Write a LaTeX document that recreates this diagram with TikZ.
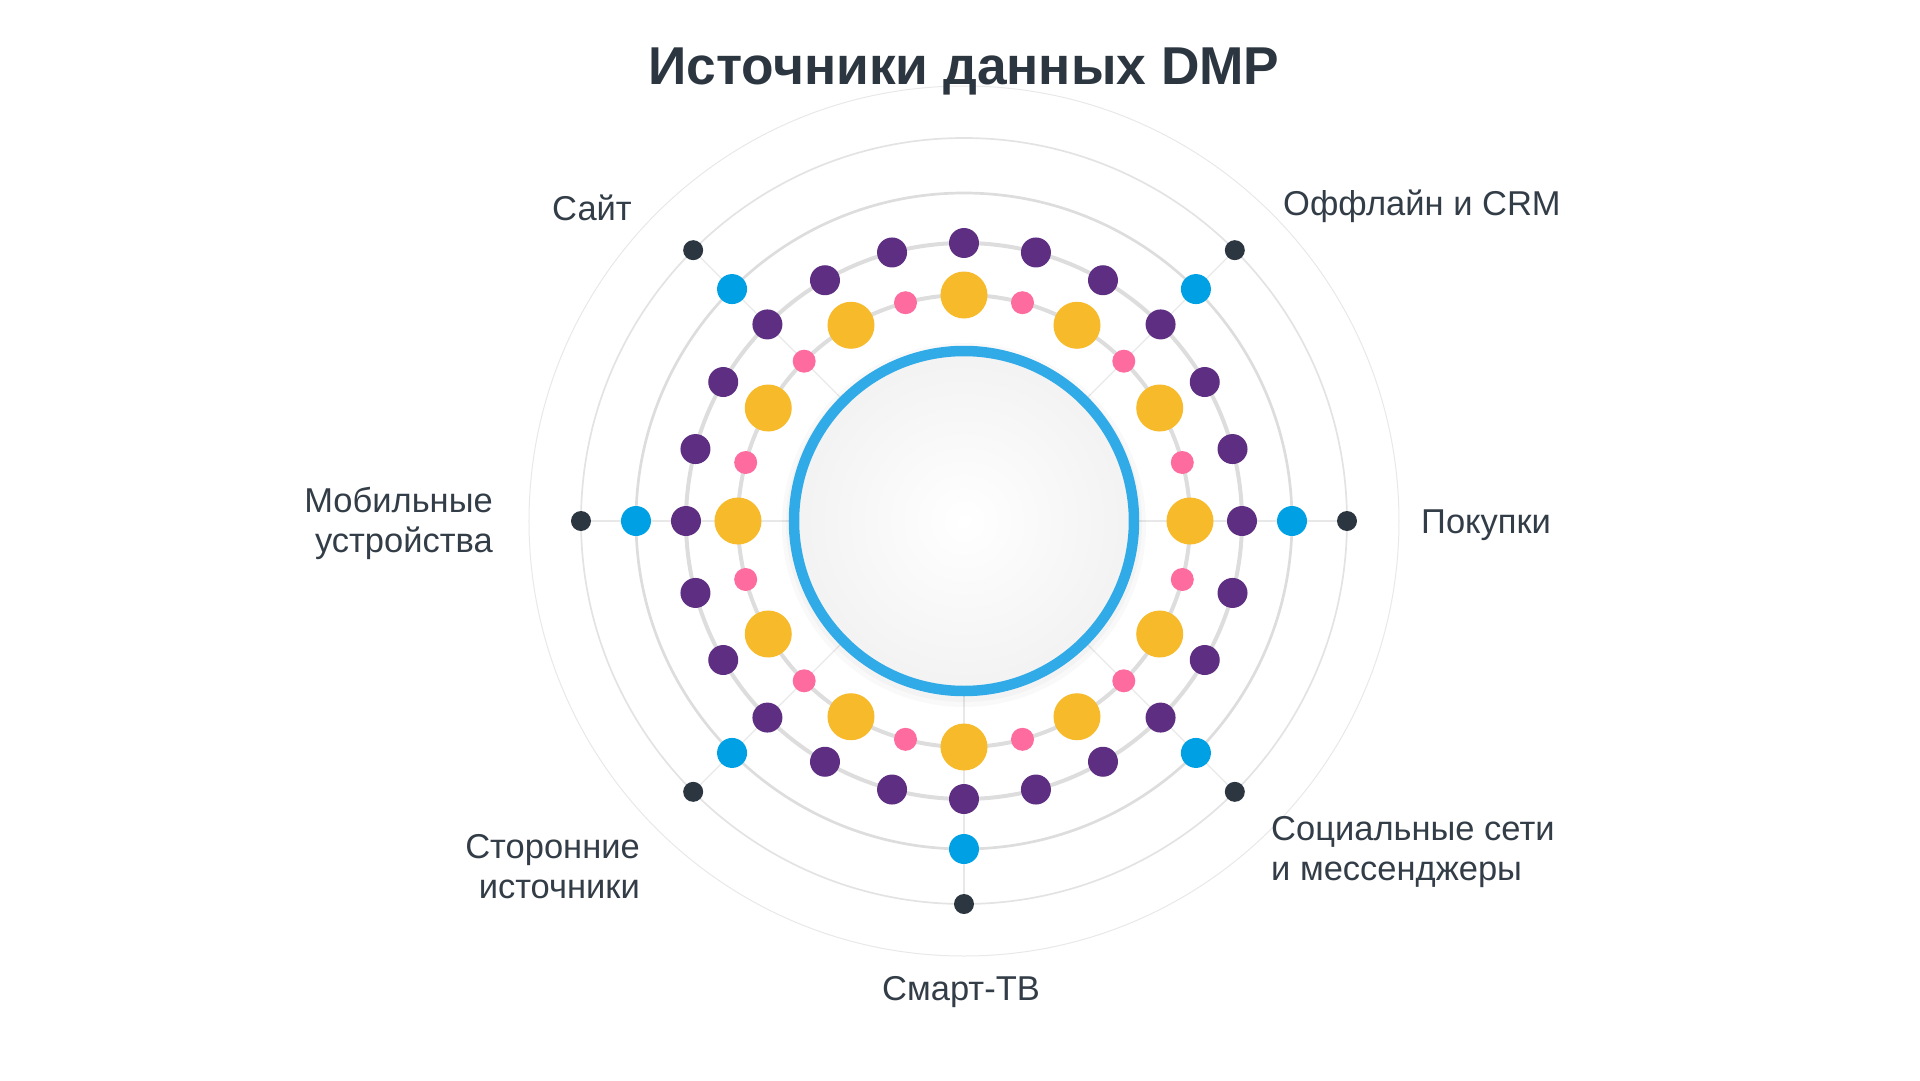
\documentclass[tikz,border=0pt]{standalone}
\usepackage{fontspec}
\setmainfont{Liberation Sans}
\usetikzlibrary{backgrounds}
\definecolor{cgold}{HTML}{F7BA2B}
\definecolor{crose}{HTML}{FE6B9F}
\definecolor{cplum}{HTML}{5E2E83}
\definecolor{csky}{HTML}{00A1E4}
\definecolor{cink}{HTML}{2C3640}
\definecolor{chub}{HTML}{31ABE8}
\definecolor{ctext}{HTML}{333D47}
\definecolor{cring}{HTML}{DDDDDD}
\definecolor{cspoke}{HTML}{E8E8E8}
\tikzset{every dot/.style={circle,inner sep=0pt},
         ydot/.style={every dot,fill=cgold,minimum size=47pt},
         pdot/.style={every dot,fill=crose,minimum size=23pt},
         vdot/.style={every dot,fill=cplum,minimum size=30pt},
         bdot/.style={every dot,fill=csky,minimum size=30pt},
         kdot/.style={every dot,fill=cink,minimum size=20pt},
         ring/.style={draw=cring,line width=#1},
         spoke/.style={draw=cspoke,line width=1.3pt},
         src/.style={font=\fontsize{34.5}{40}\selectfont,text=ctext,inner sep=0pt}}

\begin{document}
\begin{tikzpicture}[x=1pt,y=1pt]
        \useasboundingbox (-964,-559) rectangle (956,521);
        % center
        \fill[black,opacity=0.025] (0,-4) circle (182);
        \fill[black,opacity=0.025] (0,-3) circle (178);
        \node[circle,minimum size=340pt,inner sep=0pt,shading=radial,inner color=white,outer color=black!5,draw=chub,line width=10.5pt](hub)at(0,0){};
        % rings
        \draw[ring=4pt](hub.center) circle[radius=226];
        \draw[ring=4pt](hub.center) circle[radius=278];
        \draw[ring=2.7pt](hub.center) circle[radius=328];
        \draw[ring=1.7pt,draw=black!11](hub.center) circle[radius=383];
        \draw[ring=1pt,draw=black!9](hub.center) circle[radius=435];
        % dots
        \foreach \a in {0,...,11}
            \node[ydot](y\a)at(30*\a:226){};
        \foreach \a in {0,...,11}
            \node[pdot](p\a)at(30*\a+15:226){};
        \foreach \a in {0,...,23}
            \node[vdot](v\a)at(15*\a:278){};
        \foreach \a in {0,45,135,180,225,270,315}{
            \node[bdot](b\a)at(\a:328){};
            \node[kdot](k\a)at(\a:383){};
        }
        \begin{pgfonlayer}{background}
        \foreach \a in {0,45,135,180,225,270,315}
            \draw[spoke](hub)--(k\a);
        \end{pgfonlayer}
        % labels
        \node[font=\bfseries\fontsize{53.3}{60}\selectfont,text=cink,anchor=base](title)at(0,436){Источники данных DMP};
        \node[src,anchor=base east](site)at(-332,301){Сайт};
        \node[src,anchor=base west](offline)at(319,306){Оффлайн и CRM};
        \node[src,anchor=base west](buy)at(457,-12){Покупки};
        \node[src,anchor=base west,align=left](social)at(307,-359){Социальные сети\\и мессенджеры};
        \node[src,anchor=base](tv)at(-3,-479){Смарт-ТВ};
        \node[src,anchor=base east,align=right](third)at(-324,-377){Сторонние\\источники};
        \node[src,anchor=base east,align=right](mobile)at(-471,-31){Мобильные\\устройства};
    \end{tikzpicture}
\end{document}
